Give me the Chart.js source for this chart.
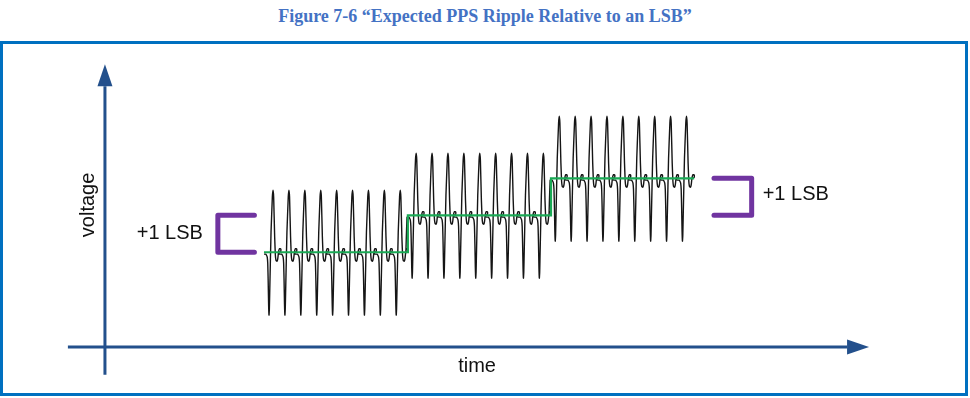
<!DOCTYPE html>
<html>
<head>
<meta charset="utf-8">
<script src="https://cdn.jsdelivr.net/npm/chart.js@4.4.1/dist/chart.umd.min.js"></script>
<style>
  body { margin: 0; background: #fff; }
  #titulo { position: absolute; left: 0; top: 6px; width: 970px; text-align: center;
    font: bold 18px "Liberation Serif", serif; color: #4472c4; }
  #marco { position: absolute; left: 0; top: 41px; width: 968px; height: 355px;
    box-sizing: border-box; border: 3px solid #0070c0; }
  #lienzo { position: absolute; left: 0; top: 0; width: 970px; height: 398px; }
</style>
</head>
<body>
<div id="titulo">Figure 7-6 “Expected PPS Ripple Relative to an LSB”</div>
<div id="marco"></div>
<div id="lienzo"><canvas id="myChart"></canvas></div>
<script>
// time in ripple periods, voltage in LSB
const xRange = [-6.6, 54.4]
const yRange = [-1.38, 9.38]

const stepLevels = [2.56, 3.56, 4.56]     // baseline of each code (LSB)
const stepStarts = [10, 19.05, 28.05]     // where each code begins
const stepEnd = 37.05
const cyclesPerStep = 9

// one ripple period: phase and offset from baseline (LSB)
const ripplePhase  = [0, 0.114, 0.159, 0.205, 0.238, 0.265, 0.292, 0.317, 0.338, 0.368, 0.444, 0.527, 0.571, 0.61,
                      0.673, 0.717, 0.756, 0.8, 0.838, 0.873, 0.905, 0.936, 0.987, 1.051, 1.063, 1.013, 0.936, 0.924]
const rippleOffset = [-0.05, -0.05, -0.08, -0.13, -0.3, -0.78, -1.41, -1.7, -1.55, -0.95, 0.54, 1.49, 1.68, 1.49,
                      0.41, -0.08, -0.22, -0.24, -0.23, -0.16, -0.03, 0.05, 0.1, 0.09, 0.04, 0.01, 0.01, -0.02]

const timeAxis = [-2.33, 46.67]     // start, arrow base
const voltAxis = [-0.75, 7.05]

const bracketLeft = [9.4, 7.1]      // open end, closed side
const bracketRight = [38.3, 40.67]
const lsbLabel = '+1 LSB'

// build the traces
let ripple = []
stepLevels.forEach((nivel, s) => {
  for (let c = 0; c < cyclesPerStep; c++) {
    const t0 = stepStarts[0] + s * cyclesPerStep + c
    ripplePhase.forEach((p, i) => ripple.push({ x: t0 + p, y: nivel + rippleOffset[i] }))
  }
})

let codigo = stepStarts.map((t, i) => ({ x: t, y: stepLevels[i] }))
codigo.push({ x: stepEnd, y: stepLevels[stepLevels.length - 1] })

const corchete = (abierto, cerrado, bajo) => [
  { x: abierto, y: bajo + 1 }, { x: cerrado, y: bajo + 1 },
  { x: cerrado, y: bajo }, { x: abierto, y: bajo }
]

const dibujos = {
  id: 'dibujos',
  afterDatasetsDraw(chart) {
    const ctx = chart.ctx
    const sx = chart.scales.x, sy = chart.scales.y
    // arrow heads
    chart.data.datasets.forEach((ds, i) => {
      if (!ds.flecha) return
      const pts = chart.getDatasetMeta(i).data
      const a = pts[pts.length - 2], b = pts[pts.length - 1]
      ctx.save()
      ctx.translate(b.x, b.y)
      ctx.rotate(Math.atan2(b.y - a.y, b.x - a.x))
      ctx.fillStyle = ds.borderColor
      ctx.beginPath()
      ctx.moveTo(22, 0); ctx.lineTo(0, -7.5); ctx.lineTo(0, 7.5)
      ctx.closePath(); ctx.fill()
      ctx.restore()
    })
    // texts
    ctx.save()
    ctx.fillStyle = '#111'
    ctx.font = '20px "Liberation Sans", Arial, sans-serif'
    ctx.textBaseline = 'middle'
    ctx.textAlign = 'right'
    ctx.fillText(lsbLabel, sx.getPixelForValue(6.16), sy.getPixelForValue(stepLevels[0] + 0.5))
    ctx.textAlign = 'left'
    ctx.fillText(lsbLabel, sx.getPixelForValue(41.36), sy.getPixelForValue(stepLevels[1] + 0.55))
    ctx.textAlign = 'center'
    ctx.fillText('time', sx.getPixelForValue(23.4), sy.getPixelForValue(-0.54))
    ctx.translate(sx.getPixelForValue(-1.02), sy.getPixelForValue(3.84))
    ctx.rotate(-Math.PI / 2)
    ctx.fillText('voltage', 0, 0)
    ctx.restore()
  }
}

new Chart(document.getElementById('myChart'), {
  type: 'scatter',
  data: {
    datasets: [{
      label: 'code',
      data: codigo,
      showLine: true,
      stepped: true,
      borderColor: '#1aa955',
      borderWidth: 2.2
    }, {
      label: 'ripple',
      data: ripple,
      showLine: true,
      tension: 0.1,
      borderColor: '#151515',
      borderWidth: 1.4
    }, {
      label: 'time',
      data: timeAxis.map(t => ({ x: t, y: 0 })),
      showLine: true,
      flecha: true,
      borderColor: '#23508c',
      borderWidth: 3
    }, {
      label: 'voltage',
      data: voltAxis.map(v => ({ x: 0, y: v })),
      showLine: true,
      flecha: true,
      borderColor: '#23508c',
      borderWidth: 3
    }, {
      label: 'lsb izq',
      data: corchete(bracketLeft[0], bracketLeft[1], stepLevels[0]),
      showLine: true,
      borderColor: '#7034a0',
      borderWidth: 5,
      borderCapStyle: 'round',
      borderJoinStyle: 'round'
    }, {
      label: 'lsb der',
      data: corchete(bracketRight[0], bracketRight[1], stepLevels[1]),
      showLine: true,
      borderColor: '#7034a0',
      borderWidth: 5,
      borderCapStyle: 'round',
      borderJoinStyle: 'round'
    }]
  },
  options: {
    responsive: true,
    maintainAspectRatio: false,
    animation: false,
    events: [],
    layout: { padding: 0 },
    elements: { point: { radius: 0 } },
    plugins: {
      legend: { display: false },
      tooltip: { enabled: false }
    },
    scales: {
      x: { type: 'linear', min: xRange[0], max: xRange[1], display: false },
      y: { type: 'linear', min: yRange[0], max: yRange[1], display: false }
    }
  },
  plugins: [dibujos]
})
</script>
</body>
</html>
